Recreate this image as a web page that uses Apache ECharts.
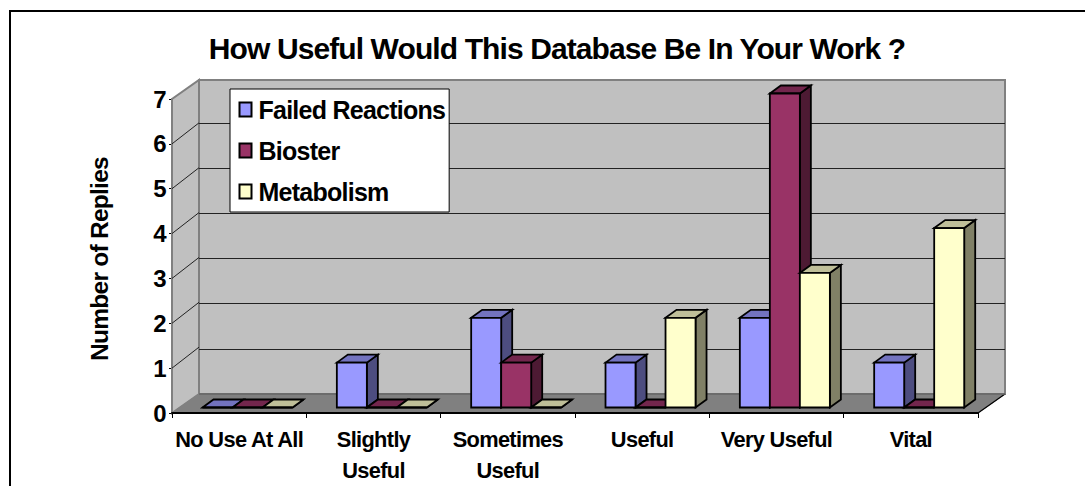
<!DOCTYPE html>
<html>
<head>
<meta charset="utf-8">
<script src="https://cdn.jsdelivr.net/npm/echarts@6/dist/echarts.min.js"></script>
<style>
html, body { margin: 0; padding: 0; background: #fff; overflow: hidden; }
#chart { width: 1085px; height: 486px; }
#chart text { letter-spacing: -0.03em; }
</style>
</head>
<body>
<div id="chart"></div>
<script>
// Chart data
const categories = ['No Use At All', 'Slightly\nUseful', 'Sometimes\nUseful', 'Useful', 'Very Useful', 'Vital'];
const failedReactions = [0, 1, 2, 1, 2, 1];
const bioster = [0, 0, 1, 0, 7, 0];
const metabolism = [0, 0, 0, 2, 3, 4];

// Colors: front, top, side of each 3D bar
const barColors = [
    ['#9999ff', '#7373bf', '#4d4d80'],
    ['#993366', '#73264d', '#4d1a33'],
    ['#ffffcc', '#bfbf99', '#808066']
];

// Perspective offset of the back wall and of the bars
const WALL_DX = 27, WALL_DY = 19, GRID_DY = 21;
const BAR_DX = 11, BAR_DY = 8;

function barRenderer(seriesIndex) {
    return function (params, api) {
        const cat = api.value(0);
        const pt = api.coord([cat, api.value(1)]);
        const base = api.coord([cat, 0]);
        const catWidth = api.size([1, 0])[0];
        const w = catWidth * 0.2234;
        const x = pt[0] - catWidth / 2 + catWidth * 0.2234 + seriesIndex * w + 0.5;
        const yTop = pt[1] - 5.5;
        const yBottom = base[1] - 5.5;
        const c = barColors[seriesIndex];
        const line = { stroke: '#000', lineWidth: 1.8, lineJoin: 'miter' };
        const children = [
            { type: 'polygon', shape: { points: [[x + w, yTop], [x + w + BAR_DX, yTop - BAR_DY], [x + w + BAR_DX, yBottom - BAR_DY], [x + w, yBottom]] }, style: { fill: c[2], ...line } },
            { type: 'polygon', shape: { points: [[x, yTop], [x + BAR_DX, yTop - BAR_DY], [x + w + BAR_DX, yTop - BAR_DY], [x + w, yTop]] }, style: { fill: c[1], ...line } },
            { type: 'rect', shape: { x: x, y: yTop, width: w, height: yBottom - yTop }, style: { fill: c[0], ...line } }
        ];
        return { type: 'group', children: children };
    };
}

// Back wall, side wall, floor and slanted grid lines, hung on the front axes
function wallRenderer(params, api) {
    const n = categories.length;
    const left = api.coord([0, 0])[0] - api.size([1, 0])[0] / 2;
    const right = left + api.size([1, 0])[0] * n;
    const y0 = api.coord([0, 0])[1];
    const y7 = api.coord([0, 7])[1];
    const children = [
        { type: 'rect', shape: { x: left + WALL_DX, y: y7 - WALL_DY, width: right - left, height: y0 - y7 }, style: { fill: '#c0c0c0', stroke: '#808080', lineWidth: 2 } },
        { type: 'polygon', shape: { points: [[left, y0], [left, y7], [left + WALL_DX, y7 - WALL_DY], [left + WALL_DX, y0 - WALL_DY]] }, style: { fill: '#c0c0c0', stroke: '#808080', lineWidth: 2 } },
        { type: 'polygon', shape: { points: [[left, y0], [left + WALL_DX, y0 - WALL_DY], [right + WALL_DX, y0 - WALL_DY], [right, y0]] }, style: { fill: '#808080', stroke: '#808080', lineWidth: 1 } },
        { type: 'line', shape: { x1: right, y1: y0, x2: right + WALL_DX, y2: y0 - WALL_DY }, style: { stroke: '#000', lineWidth: 1.2 } },
        { type: 'line', shape: { x1: left + WALL_DX, y1: y0 - WALL_DY, x2: right + WALL_DX, y2: y0 - WALL_DY }, style: { stroke: '#666', lineWidth: 1.5 } }
    ];
    for (let v = 1; v <= 6; v++) {
        const y = api.coord([0, v])[1];
        children.push({ type: 'line', shape: { x1: left, y1: y, x2: left + WALL_DX, y2: y - GRID_DY }, style: { stroke: '#222', lineWidth: 1 } });
    }
    return { type: 'group', children: children };
}

function toSeries(name, values, index) {
    return {
        name: name,
        type: 'custom',
        xAxisIndex: 0,
        yAxisIndex: 0,
        z: 5,
        itemStyle: { color: barColors[index][0], borderColor: '#000', borderWidth: 1 },
        renderItem: barRenderer(index),
        encode: { x: 0, y: 1 },
        data: values.map((v, i) => [i, v])
    };
}

const chart = echarts.init(document.getElementById('chart'), null, { renderer: 'svg' });
chart.setOption({
    animation: false,
    backgroundColor: '#fff',
    title: {
        text: 'How Useful Would This Database Be In Your Work ?',
        left: 552,
        textAlign: 'center',
        top: 28,
        textStyle: { fontFamily: 'Liberation Sans', fontWeight: 'bold', fontSize: 30, color: '#000' }
    },
    legend: {
        orient: 'vertical',
        left: 230,
        top: 89,
        // right padding is negative: the box is measured without the tightened letter spacing
        padding: [8, -8, 8, 8.5],
        itemWidth: 12,
        itemHeight: 14,
        itemGap: 16,
        icon: 'rect',
        backgroundColor: '#fff',
        borderColor: '#000',
        borderWidth: 1,
        z: 10,
        textStyle: { fontFamily: 'Liberation Sans', fontWeight: 'bold', fontSize: 25, color: '#000', padding: [0, 0, 0, 2] },
        data: ['Failed Reactions', 'Bioster', 'Metabolism']
    },
    grid: [
        { left: 172, right: 107, top: 99, bottom: 73, outerBoundsMode: 'none' },
        { left: 199, right: 80, top: 78, bottom: 92, outerBoundsMode: 'none' }
    ],
    xAxis: [
        {
            type: 'category',
            gridIndex: 0,
            data: categories,
            z: 4,
            axisLine: { lineStyle: { color: '#000', width: 2 } },
            axisTick: { show: true, alignWithLabel: false, length: 5, lineStyle: { color: '#000', width: 1 } },
            axisLabel: { fontFamily: 'Liberation Sans', fontWeight: 'bold', fontSize: 21.8, color: '#000', margin: 10.5, lineHeight: 31, interval: 0 }
        },
        { type: 'category', gridIndex: 1, show: false, data: categories }
    ],
    yAxis: [
        {
            type: 'value',
            gridIndex: 0,
            min: 0,
            max: 7,
            interval: 1,
            name: 'Number of Replies',
            nameLocation: 'middle',
            nameGap: 60,
            nameTextStyle: { fontFamily: 'Liberation Sans', fontWeight: 'bold', fontSize: 24.5, color: '#000', padding: [0, 6, 0, 0] },
            axisLine: { show: true, lineStyle: { color: '#404040', width: 1.5 } },
            axisTick: { show: true, length: 3, lineStyle: { color: '#000' } },
            axisLabel: { fontFamily: 'Liberation Sans', fontWeight: 'bold', fontSize: 24, color: '#000', margin: 6 },
            splitLine: { show: false }
        },
        {
            type: 'value',
            gridIndex: 1,
            min: 0,
            max: 7,
            interval: 1,
            z: 3,
            axisLine: { show: false },
            axisTick: { show: false },
            axisLabel: { show: false },
            splitLine: { show: true, showMinLine: false, showMaxLine: false, lineStyle: { color: '#222', width: 1 } }
        }
    ],
    graphic: [{
        type: 'rect',
        silent: true,
        shape: { x: 10, y: 11, width: 1200, height: 600 },
        style: { fill: 'none', stroke: '#000', lineWidth: 2 }
    }],
    series: [
        {
            type: 'custom',
            silent: true,
            xAxisIndex: 0,
            yAxisIndex: 0,
            z: 1,
            renderItem: wallRenderer,
            data: [[0, 0]]
        },
        toSeries('Failed Reactions', failedReactions, 0),
        toSeries('Bioster', bioster, 1),
        toSeries('Metabolism', metabolism, 2)
    ]
});
</script>
</body>
</html>
